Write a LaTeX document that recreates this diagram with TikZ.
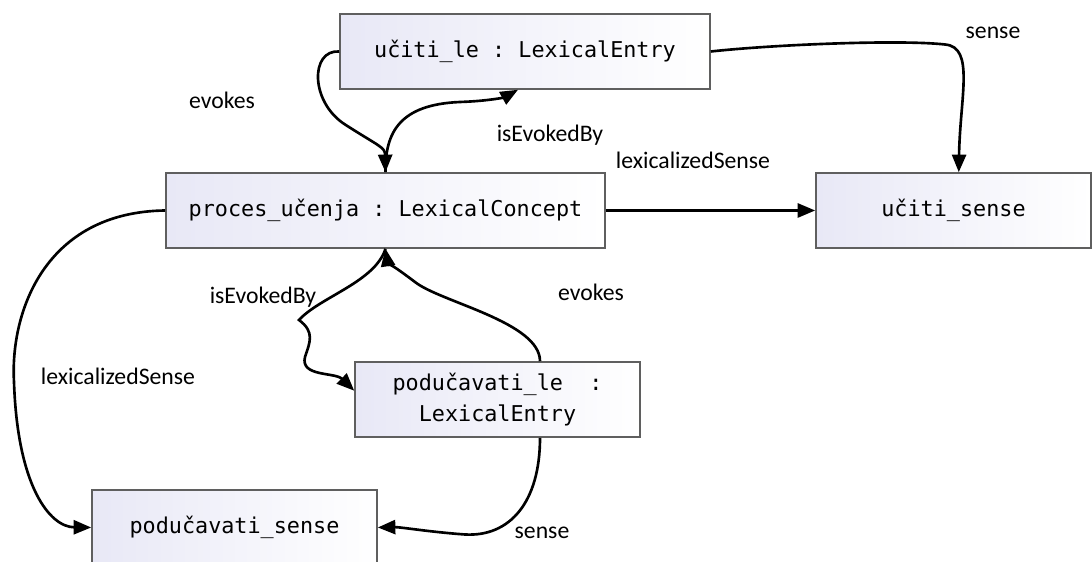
\documentclass[tikz,border=0pt]{standalone}
\usepackage{fontspec}
\setmainfont{Carlito}
\setmonofont{DejaVu Sans Mono}
\usepackage{tikz}
\usetikzlibrary{arrows.meta}
\definecolor{boxleft}{RGB}{232,232,246}
\definecolor{boxline}{RGB}{95,95,95}

\begin{document}
\begin{tikzpicture}[line width=1.5pt, >={Triangle[length=10pt,width=8pt]},
  every node/.style={font=\fontsize{13.5}{16}\selectfont},
  entity/.style={draw=boxline, line width=0.9pt, left color=boxleft, right color=white,
    minimum height=1.5cm, inner sep=0pt, align=center,
    font=\ttfamily\fontsize{12.4}{18}\selectfont}]
\useasboundingbox (0,0) rectangle (21.84,11.24);
%boxes
\node[entity, minimum width=7.4cm] (ucitiLE) at (10.5,10.21) {učiti\_le : LexicalEntry};
\node[entity, minimum width=8.78cm] (proces) at (7.71,7.03) {proces\_učenja : LexicalConcept};
\node[entity, minimum width=5.5cm] (ucitiSense) at (19.07,7.03) {učiti\_sense};
\node[entity, minimum width=5.7cm] (podLE) at (9.95,3.25) {podučavati\_le\ \ :\\LexicalEntry};
\node[entity, minimum width=5.7cm] (podSense) at (4.69,0.69) {podučavati\_sense};
%labels
\node (lSenseA) at (19.86,10.58) {sense};
\node (lEvokesA) at (4.44,9.24) {evokes};
\node (lEvokedA) at (11.0,8.54) {isEvokedBy};
\node (lLexA) at (13.86,8.04) {lexicalizedSense};
\node (lEvokedB) at (5.26,5.3) {isEvokedBy};
\node (lEvokesB) at (11.82,5.4) {evokes};
\node (lLexB) at (2.36,3.72) {lexicalizedSense};
\node (lSenseB) at (10.84,0.58) {sense};
%učiti
\draw[->] (ucitiLE.west) .. controls (6.2,10.25) and (6.2,9.2) .. (6.9,8.75)
  .. controls (7.6,8.3) and (7.7,8.3) .. (proces.north);
\draw[->] (proces.north) .. controls (7.7,8.6) and (8.0,9.15) .. (9.2,9.2)
  .. controls (9.8,9.22) and (10.1,9.3) .. ([xshift=-4pt]ucitiLE.south);
\draw[->] (ucitiLE.east) .. controls (15.5,10.35) and (18,10.45) .. (18.9,10.35)
  .. controls (19.5,10.3) and (19.2,9.3) .. ([xshift=3pt]ucitiSense.north);
\draw[->] (proces.east) -- (ucitiSense.west);
%podučavati
\draw[->] (proces.west) .. controls (0.9,7.0) and (0.2,5.0) .. (0.28,3.6)
  .. controls (0.35,1.5) and (1.0,0.7) .. (podSense.west);
\draw[->] (proces.south) .. controls (7.5,5.6) and (6.4,5.3) .. (5.98,4.84)
  .. controls (6.3,4.6) and (6.2,4.4) .. (6.1,4.1)
  .. controls (6.0,3.7) and (6.7,3.8) .. ([yshift=5pt]podLE.west);
\draw[->] ([xshift=0.85cm]podLE.north) .. controls (10.8,4.8) and (8.8,5.2) .. (8.3,5.6)
  .. controls (7.9,5.9) and (7.75,6.0) .. (proces.south);
\draw[->] ([xshift=0.85cm]podLE.south) .. controls (10.8,1.2) and (10.2,0.5) .. (9.3,0.55)
  .. controls (8.6,0.6) and (8.0,0.7) .. (podSense.east);
\end{tikzpicture}
\end{document}
